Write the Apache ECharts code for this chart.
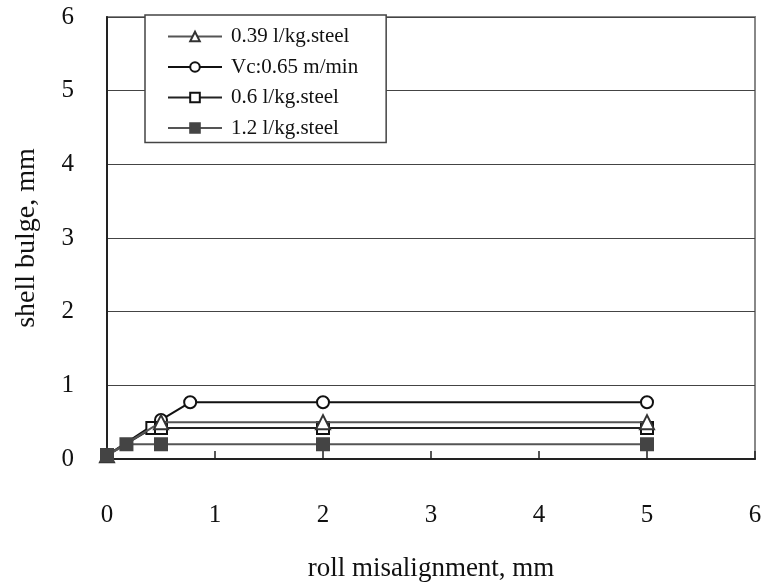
<!DOCTYPE html>
<html><head><meta charset="utf-8">
<script src="https://cdn.jsdelivr.net/npm/echarts@6/dist/echarts.min.js"></script>
<style>html,body{margin:0;padding:0;background:#fff}#c{width:762px;height:586px}</style>
</head><body><div id="c"></div>
<script>
var seriesNames = ['0.39 l/kg.steel', 'Vc:0.65 m/min', '0.6 l/kg.steel', '1.2 l/kg.steel'];
var tri = [[0, 0.05], [0.5, 0.5], [2, 0.5], [5, 0.5]];
var circ = [[0, 0.05], [0.5, 0.53], [0.77, 0.77], [2, 0.77], [5, 0.77]];
var sqOpen = [[0, 0.05], [0.42, 0.42], [0.5, 0.42], [2, 0.42], [5, 0.42]];
var sqFill = [[0, 0.05], [0.18, 0.2], [0.5, 0.2], [2, 0.2], [5, 0.2]];
var xTicks = [0, 1, 2, 3, 4, 5, 6];
var yTicks = [0, 1, 2, 3, 4, 5, 6];

var font = 'Liberation Serif';
var chart = echarts.init(document.getElementById('c'));
function mk(name, data, symbol, size, color, fill, lineColor, z) {
  return {
    name: name, type: 'line', data: data, symbol: symbol, symbolSize: size,
    showAllSymbol: true, z: z,
    lineStyle: {color: lineColor, width: 2},
    itemStyle: {color: fill, borderColor: color, borderWidth: 2},
    emphasis: {disabled: true}, animation: false
  };
}
chart.setOption({
  animation: false,
  grid: {left: 107, right: 7, top: 17, bottom: 127, show: true, borderColor: '#888', borderWidth: 2,
         backgroundColor: 'transparent', containLabel: false, outerBoundsMode: 'none'},
  legend: {
    orient: 'vertical', left: 145, top: 15,
    padding: [11, 28, 4, 22], itemGap: 9.5, itemWidth: 54, itemHeight: 12,
    borderColor: '#444', borderWidth: 1.5, backgroundColor: '#fff',
    textStyle: {fontFamily: font, fontSize: 21, color: '#111', padding: [0, 0, 0, 4]},
    data: seriesNames
  },
  xAxis: {
    type: 'value', min: xTicks[0], max: xTicks[xTicks.length - 1], interval: 1,
    name: 'roll misalignment, mm', nameLocation: 'middle', nameGap: 96,
    nameTextStyle: {fontFamily: font, fontSize: 27, color: '#111'},
    axisLine: {show: true, lineStyle: {color: '#222', width: 2}},
    axisTick: {show: true, inside: true, length: 8, lineStyle: {color: '#222', width: 1.5}},
    axisLabel: {fontFamily: font, fontSize: 25, color: '#111', margin: 44},
    splitLine: {show: false}
  },
  yAxis: {
    type: 'value', min: yTicks[0], max: yTicks[yTicks.length - 1], interval: 1,
    name: 'shell bulge, mm', nameLocation: 'middle', nameGap: 66,
    nameTextStyle: {fontFamily: font, fontSize: 28, color: '#111'},
    axisLine: {show: true, lineStyle: {color: '#222', width: 2}},
    axisTick: {show: false},
    axisLabel: {fontFamily: font, fontSize: 25, color: '#111', margin: 33},
    splitLine: {show: true, lineStyle: {color: '#444', width: 1.2}}
  },
  series: [
    mk(seriesNames[0], tri, 'triangle', 14, '#333', '#fff', '#555', 5),
    mk(seriesNames[1], circ, 'circle', 12, '#111', '#fff', '#111', 3),
    mk(seriesNames[2], sqOpen, 'rect', 12, '#111', '#fff', '#222', 4),
    mk(seriesNames[3], sqFill, 'rect', 12, '#444', '#444', '#555', 6)
  ]
});
</script></body></html>
